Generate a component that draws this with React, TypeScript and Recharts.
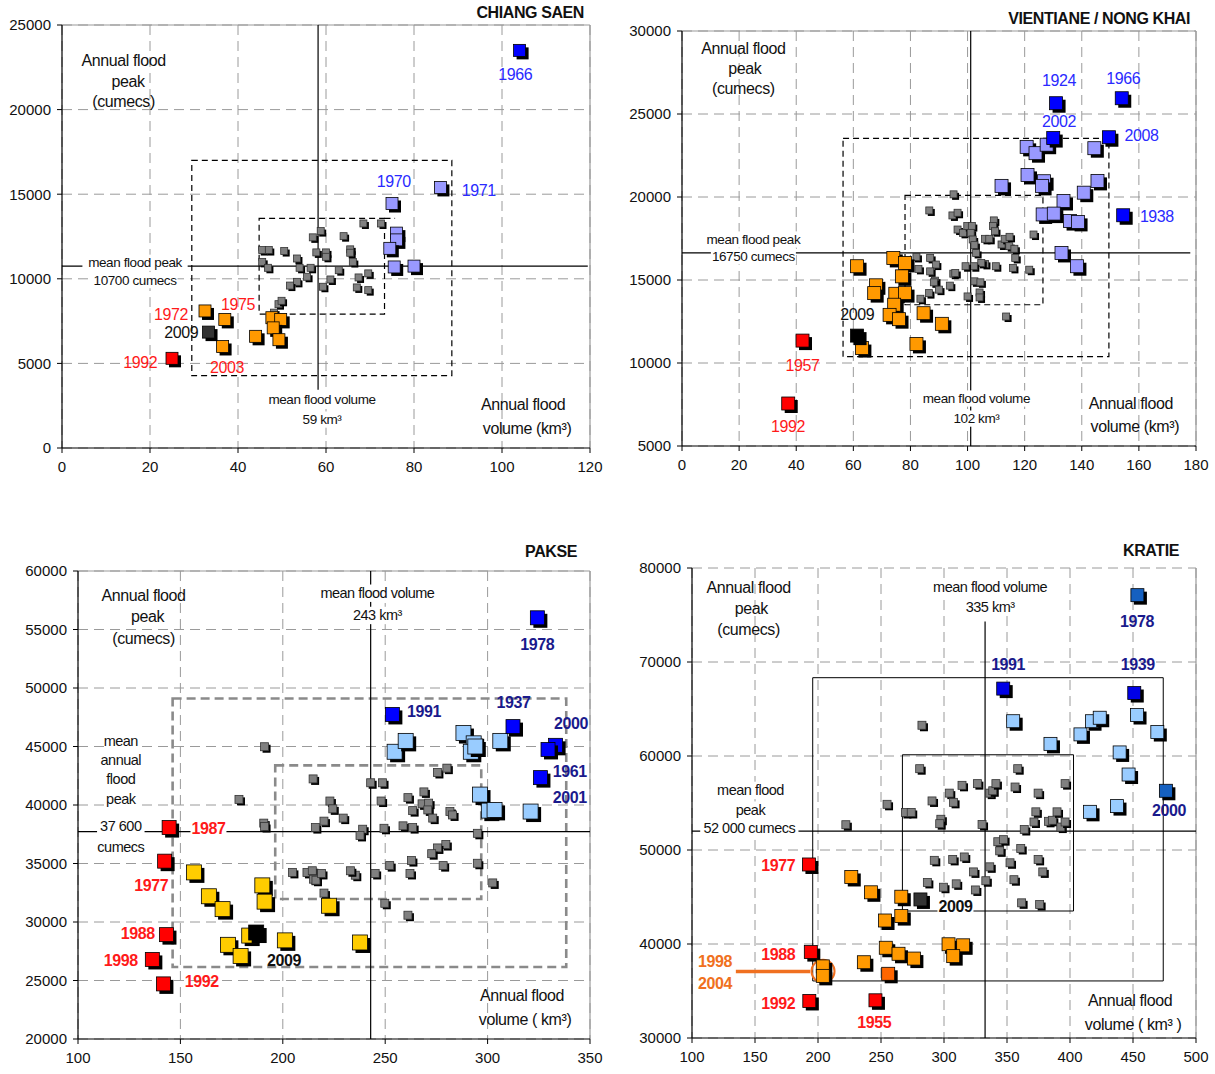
import React from "react";
import {
  ScatterChart,
  Scatter,
  XAxis,
  YAxis,
  CartesianGrid,
  ReferenceLine,
  ReferenceArea,
  ReferenceDot,
} from "recharts";

type P = [number, number];
type L = [string, number, number];

const FONT = "'Liberation Sans', Arial, Helvetica, sans-serif";

// ---------------- CHIANG SAEN ----------------
const csXTicks = [0, 20, 40, 60, 80, 100, 120];
const csYTicks = [0, 5000, 10000, 15000, 20000, 25000];
const csGray: P[] = [
  [45.5, 11700], [47, 11700], [50.5, 11640], [45.5, 11000], [46.8, 10650], [53.4, 11200],
  [54, 10650], [56.5, 10650], [57, 12450], [58.8, 12820], [57.8, 11560], [60, 11560],
  [60, 11300], [59.3, 9530], [61, 9960], [62.9, 10510], [55.7, 10120], [53.4, 9820],
  [51.8, 9600], [64, 12520], [65.5, 11740], [65.5, 11540], [66.1, 10990], [68.5, 13270],
  [72.5, 13270], [67.4, 10080], [69.6, 10320], [67, 9490], [69.6, 9330], [49.2, 8500],
  [49.9, 8700], [48.2, 8000],
];
const csLilac: P[] = [[86, 15400], [75, 14450], [76, 12700], [76, 12300], [74.5, 11800], [75.5, 10700], [80, 10750]];
const csBlue: P[] = [[104, 23500]];
const csOrange: P[] = [[32.5, 8100], [37, 7600], [36.5, 6000], [44, 6600], [47.7, 7700], [49.7, 7600], [48, 7100], [49.3, 6400]];
const csBlack: P[] = [[33.3, 6850]];
const csRed: P[] = [[25, 5300]];
const csYearsBlue: L[] = [["1966", 103, 22100], ["1970", 75.4, 15750], ["1971", 94.7, 15200]];
const csYearsRed: L[] = [["1972", 24.8, 7900], ["1975", 40, 8480], ["1992", 17.8, 5050], ["2003", 37.5, 4730]];
const csYearsBlack: L[] = [["2009", 27.1, 6820]];
const csAxisText: L[] = [
  ["Annual flood", 14, 22900], ["peak", 15, 21650], ["(cumecs)", 14, 20500],
  ["Annual flood", 104.8, 2560], ["volume (km³)", 105.7, 1180],
];
const csMeanText: L[] = [
  ["mean flood peak", 16.6, 10950], ["10700 cumecs", 16.6, 9920],
  ["mean flood volume", 59.1, 2860], ["59 km³", 59.1, 1680],
];

// ---------------- VIENTIANE ----------------
const vtXTicks = [0, 20, 40, 60, 80, 100, 120, 140, 160, 180];
const vtYTicks = [5000, 10000, 15000, 20000, 25000, 30000];
const vtGray: P[] = [
  [95.1, 20160], [86.6, 19190], [94.7, 18890], [96.5, 19050], [96.5, 18040], [98.4, 17840],
  [99.9, 18250], [101.5, 18250], [101.1, 17840], [101.8, 17440], [102.4, 17100], [103, 16630],
  [106.1, 17480], [107.6, 17480], [109.2, 18590], [108.9, 18250], [109.6, 17940], [111.9, 17140],
  [113, 17480], [114.7, 17600], [114.6, 17040], [116.4, 16880], [116.7, 16330], [123.1, 17740],
  [121.6, 15620], [115.9, 15730], [109.9, 15830], [106.1, 15970], [104.8, 16030], [102.2, 15830],
  [99.3, 15830], [82.1, 16390], [82.8, 15670], [86.9, 16330], [88.9, 15930], [86.9, 15520],
  [88.6, 14960], [88.2, 14860], [90, 14420], [93.8, 14660], [95, 15380], [95.7, 15420],
  [86.5, 14210], [83.5, 13870], [100, 14010], [102.4, 14920], [104.5, 14860], [104.2, 14250],
  [104.2, 13950], [113.5, 12800],
];
const vtLilac: P[] = [
  [120.7, 23020], [123.8, 22640], [127.7, 23150], [144.4, 22940], [121, 21330], [126.8, 20950],
  [126.1, 20670], [111.9, 20670], [140.7, 20260], [145.5, 20970], [133.6, 19760], [126.3, 18950],
  [130.2, 19000], [135.9, 18550], [138.7, 18500], [132.9, 16630], [138.3, 15830],
];
const vtBlue: P[] = [[131, 25650], [154, 25950], [130, 23550], [149.5, 23600], [154.5, 18900]];
const vtOrange: P[] = [
  [74, 16330], [78.1, 16030], [61.3, 15830], [77, 15220], [67.9, 14680], [67.3, 14210],
  [74.7, 14170], [78.1, 14210], [74.3, 13510], [72.7, 12900], [76, 12640], [84.6, 13000],
  [91, 12360], [82.1, 11150], [63, 10900],
];
const vtBlack: P[] = [[61.3, 11650]];
const vtRed: P[] = [[42.2, 11350], [37.2, 7560]];
const vtYearsBlue: L[] = [["1924", 132, 27000], ["1966", 154.5, 27160], ["2002", 132, 24540], ["2008", 160.9, 23730], ["1938", 166.3, 18810]];
const vtYearsRed: L[] = [["1957", 42.2, 9840], ["1992", 37.1, 6150]];
const vtYearsBlack: L[] = [["2009", 61.4, 12900]];
const vtAxisText: L[] = [
  ["Annual flood", 21.5, 28930], ["peak", 22, 27720], ["(cumecs)", 21.5, 26550],
  ["Annual flood", 157.2, 7560], ["volume (km³)", 158.6, 6150],
];
const vtMeanText: L[] = [
  ["mean flood peak", 25, 17440], ["16750 cumecs", 25, 16430],
  ["mean flood volume", 103.1, 7860], ["102 km³", 103.1, 6650],
];

// ---------------- PAKSE ----------------
const pkXTicks = [100, 150, 200, 250, 300, 350];
const pkYTicks = [20000, 25000, 30000, 35000, 40000, 45000, 50000, 55000, 60000];
const pkGray: P[] = [
  [191.1, 44980], [178.6, 40480], [190.7, 38450], [191.1, 38160], [214.8, 42230], [223, 40340],
  [224.4, 39670], [220.1, 38620], [215.9, 38070], [229.5, 38880], [239, 37930], [237.7, 37400],
  [242.9, 41900], [248.7, 41900], [248, 40340], [249.4, 38010], [258.7, 38220], [263.4, 38070],
  [261.1, 40630], [263.4, 39520], [268.9, 41120], [268, 40100], [271.2, 40160], [270.8, 39580],
  [273.2, 38880], [275.5, 42780], [280.1, 43150], [281.6, 39440], [282.9, 39150], [295, 37580],
  [295, 35020], [302.5, 33340], [279.6, 36620], [275.5, 36330], [272.7, 35840], [278.3, 34820],
  [262.8, 35250], [262.1, 34150], [252.2, 34820], [245.1, 34150], [235.4, 34000], [233, 34380],
  [204.7, 34240], [211.8, 34240], [214.4, 34380], [215, 33660], [216.2, 33570], [218.9, 34150],
  [220.1, 32470], [249.8, 31600], [261.1, 30580],
];
const pkLightBlue: P[] = [
  [254.6, 44550], [260, 45480], [288.2, 46150], [293.2, 45270], [291.8, 44550], [294, 45000],
  [306.2, 45480], [296.3, 40890], [300.6, 39520], [303.4, 39580], [321, 39440],
];
const pkBlue: P[] = [[324.3, 56000], [253.5, 47740], [312.4, 46700], [333.2, 45100], [329.5, 44750], [325.8, 42340]];
const pkRed: P[] = [[144.5, 38070], [142.3, 35200], [143.2, 28920], [136.3, 26800], [141.7, 24710]];
const pkYellow: P[] = [
  [156.6, 34240], [163.9, 32200], [170.6, 31100], [190, 33130], [191.1, 31740], [222.6, 31390],
  [173.2, 28050], [179.4, 27100], [183.6, 28840], [201, 28430], [237.7, 28250],
];
const pkBlack: P[] = [[187, 29100]];
const pkYearsNavy: L[] = [["1978", 324.3, 53760], ["1991", 269, 47950], ["1937", 312.7, 48730], ["2000", 340.7, 46990], ["1961", 340.1, 42860], ["2001", 340.1, 40630]];
const pkYearsRedBg: L[] = [["1987", 163.7, 37980]];
const pkYearsRed: L[] = [["1977", 135.8, 33130], ["1988", 129.2, 29000], ["1998", 120.9, 26740], ["1992", 160.4, 24940]];
const pkYearsBlack: L[] = [["2009", 200.6, 26740]];
const pkAxisText: L[] = [
  ["Annual flood", 132, 57900], ["peak", 134, 56100], ["(cumecs)", 132, 54250],
  ["Annual flood", 316.8, 23700], ["volume ( km³)", 318.3, 21660],
];
const pkMeanText: L[] = [
  ["mean", 120.9, 45480], ["annual", 120.9, 43880], ["flood", 120.9, 42200], ["peak", 120.9, 40480],
  ["37 600", 120.9, 38220], ["cumecs", 120.9, 36390],
  ["mean flood volume", 246.2, 58100], ["243 km³", 246.2, 56200],
];

// ---------------- KRATIE ----------------
const krXTicks = [100, 150, 200, 250, 300, 350, 400, 450, 500];
const krYTicks = [30000, 40000, 50000, 60000, 70000, 80000];
const krGray: P[] = [
  [222.1, 52690], [282.5, 63270], [254.8, 54860], [269.4, 53990], [274, 53990], [280.7, 58650],
  [290.5, 55220], [297.5, 53270], [296.6, 52800], [304.2, 56050], [307.6, 55070], [314.3, 56880],
  [326.5, 57060], [336.3, 56050], [338.7, 56300], [341.2, 57060], [330.2, 52720], [358.5, 58650],
  [356.4, 56700], [374.7, 56050], [372.9, 54060], [371.4, 52980], [363.7, 52180], [383, 53050],
  [386, 53160], [389.7, 54060], [392.7, 52440], [396.1, 52980], [396.1, 57060], [342.7, 50880],
  [347.3, 51100], [344.2, 49910], [352.4, 48640], [360.9, 50160], [374.7, 49000], [378.4, 47670],
  [355.5, 46840], [336.3, 48210], [323.4, 47670], [333.2, 46730], [324.9, 45750], [316.1, 49260],
  [306.9, 49000], [292.3, 48900], [286.8, 46550], [299.6, 46040], [309.7, 46400], [361.6, 44380],
  [375.9, 44200],
];
const krLightBlue: P[] = [
  [354.9, 63700], [384.5, 61290], [408.3, 62300], [417.5, 63700], [423.6, 64070], [453.2, 64360],
  [469.3, 62550], [439.4, 60380], [446.5, 58030], [437.3, 54670], [415.9, 54060],
];
const krBlue: P[] = [[347, 67170], [451, 66700]];
const krSteel: P[] = [[453.5, 77110], [476.1, 56300]];
const krRed: P[] = [[192.8, 48460], [194.3, 39140], [193.1, 33940], [245.6, 34010]];
const krOrange: P[] = [
  [226.4, 47130], [242, 45500], [266.1, 45030], [266.1, 42970], [253.2, 42500], [253.8, 39600],
  [263.9, 38960], [276.1, 38450], [236.4, 38060], [303.6, 39970], [315.2, 39860], [307.3, 38710],
  [203.8, 37620], [203.8, 36610],
];
const krDarkOrange: P[] = [[255.7, 36830]];
const krBlack: P[] = [[281.3, 44740]];
const krYearsNavy: L[] = [["1978", 453.2, 74360], ["1991", 350.9, 69780], ["1939", 453.8, 69780], ["2000", 478.5, 54240]];
const krYearsRed: L[] = [["1977", 168.4, 48390], ["1988", 168.4, 38890], ["1992", 168.4, 33720], ["1955", 244.7, 31660]];
const krYearsBlack: L[] = [["2009", 309.1, 43940]];
const krYearsOrange: L[] = [["1998", 118.3, 38170], ["2004", 118.3, 35820]];
const krAxisText: L[] = [
  ["Annual flood", 144.9, 77900], ["peak", 147, 75700], ["(cumecs)", 144.9, 73500],
  ["Annual flood", 447.7, 33940], ["volume ( km³ )", 450.1, 31480],
];
const krMeanText: L[] = [
  ["mean flood", 146.4, 56340], ["peak", 146.4, 54240], ["52 000 cumecs", 145.5, 52330],
  ["mean flood volume", 336.6, 78000], ["335 km³", 336.6, 75900],
];

// ---------------- helpers ----------------
const toPts = (d: P[]) => d.map(([x, y]) => ({ x, y }));
const toLbl = (d: L[]) => d.map(([t, x, y]) => ({ t, x, y }));

function makeSquare(fill: string, size: number, off: number, stroke = "#000") {
  return (props: any) => {
    const { cx, cy } = props;
    if (cx == null || cy == null) return <g />;
    const h = size / 2;
    return (
      <g>
        <rect x={cx - h + off} y={cy - h + off} width={size} height={size} fill="#000" />
        <rect x={cx - h} y={cy - h} width={size} height={size} fill={fill} stroke={stroke} strokeWidth={0.8} />
      </g>
    );
  };
}

function makeText(color: string, size: number, weight: number | string, bg: boolean, ls = 0) {
  return (props: any) => {
    const { cx, cy, payload } = props;
    if (cx == null || cy == null) return <g />;
    const t: string = payload.t;
    const w = t.length * size * 0.5 + 4;
    return (
      <g>
        {bg && <rect x={cx - w / 2} y={cy - size * 0.6} width={w} height={size * 1.2} fill="#fff" />}
        <text
          x={cx}
          y={cy}
          textAnchor="middle"
          dominantBaseline="central"
          fill={color}
          fontSize={size}
          fontWeight={weight}
          fontFamily={FONT}
          letterSpacing={ls}
        >
          {t}
        </text>
      </g>
    );
  };
}

interface SeriesCfg { data: P[]; fill: string; size: number; off: number; stroke?: string }
interface LabelCfg { items: L[]; color: string; size: number; weight?: number; bg?: boolean; ls?: number }
interface SegCfg { a: P; b: P; color: string; width: number; dash?: string }
interface RectCfg { x1: number; x2: number; y1: number; y2: number; color: string; width: number; dash?: string }
interface PanelCfg {
  title: string; titleRight: number; titleTop: number;
  left: number; top: number; width: number; height: number;
  margin: { top: number; right: number; bottom: number; left: number };
  yW: number; xDomain: P; xTicks: number[]; yDomain: P; yTicks: number[];
  series: SeriesCfg[]; labels: LabelCfg[]; segs: SegCfg[]; rects: RectCfg[];
  circle?: { x: number; y: number; r: number; color: string };
  topSolid: boolean;
}

const tickStyle = { fontSize: 15, fill: "#111", fontFamily: FONT };

function Panel({ c }: { c: PanelCfg }) {
  return (
    <>
      <div
        style={{
          position: "absolute", left: 0, top: c.titleTop, width: c.titleRight, textAlign: "right",
          fontFamily: FONT, fontWeight: 700, fontSize: 16, color: "#111", letterSpacing: -0.4,
        }}
      >
        {c.title}
      </div>
      <div style={{ position: "absolute", left: c.left, top: c.top }}>
        <ScatterChart width={c.width} height={c.height} margin={c.margin}>
          <CartesianGrid stroke="#9a9a9a" strokeDasharray="10 6" strokeWidth={1} />
          <XAxis
            type="number" dataKey="x" domain={c.xDomain} ticks={c.xTicks} interval={0} allowDataOverflow
            axisLine={{ stroke: "#000", strokeWidth: 1.2 }} tickLine={{ stroke: "#000" }} tickSize={5} tickMargin={8}
            tick={tickStyle} height={30}
          />
          <YAxis
            type="number" dataKey="y" domain={c.yDomain} ticks={c.yTicks} interval={0} allowDataOverflow
            axisLine={{ stroke: "#000", strokeWidth: 1.2 }} tickLine={{ stroke: "#000" }} tickSize={5} tickMargin={6}
            tick={tickStyle} width={c.yW}
          />
          <ReferenceLine x={c.xDomain[1]} stroke="#9a9a9a" strokeWidth={1.2} />
          {c.topSolid && <ReferenceLine y={c.yDomain[1]} stroke="#9a9a9a" strokeWidth={1.2} />}
          {c.rects.map((r, i) => (
            <ReferenceArea
              key={"r" + i} x1={r.x1} x2={r.x2} y1={r.y1} y2={r.y2}
              fill="none" fillOpacity={0} stroke={r.color} strokeWidth={r.width} strokeDasharray={r.dash}
            />
          ))}
          {c.segs.map((s, i) => (
            <ReferenceLine
              key={"s" + i}
              segment={[{ x: s.a[0], y: s.a[1] }, { x: s.b[0], y: s.b[1] }]}
              stroke={s.color} strokeWidth={s.width} strokeDasharray={s.dash}
            />
          ))}
          {c.circle && (
            <ReferenceDot x={c.circle.x} y={c.circle.y} r={c.circle.r} fill="none" stroke={c.circle.color} strokeWidth={2} />
          )}
          {c.series.map((s, i) => (
            <Scatter
              key={"p" + i} data={toPts(s.data)} isAnimationActive={false}
              shape={makeSquare(s.fill, s.size, s.off, s.stroke)}
            />
          ))}
          {c.labels.map((l, i) => (
            <Scatter
              key={"l" + i} data={toLbl(l.items)} isAnimationActive={false}
              shape={makeText(l.color, l.size, l.weight ?? 400, !!l.bg, l.ls ?? 0)}
            />
          ))}
        </ScatterChart>
      </div>
    </>
  );
}

const BLUE = "#0000ff";
const BLUE_TXT = "#2a2aff";
const LILAC = "#9999ff";
const ORANGE = "#ff9900";
const RED = "#ff0000";
const RED_TXT = "#ff1a1a";
const GRAY = "#808080";
const LIGHTBLUE = "#99ccff";
const YELLOW = "#ffcc00";
const NAVY_TXT = "#1a1a8c";
const STEEL = "#1560c0";
const TXT = "#111";
const LABEL_ORANGE = "#f07020";

const YEAR = 16;
const YEAR_LS = -0.4;
const AX = 16;
const AX_LS = -0.4;

const cs: PanelCfg = {
  title: "CHIANG SAEN", titleRight: 584, titleTop: 4,
  left: 0, top: 0, width: 610, height: 490,
  margin: { top: 25, right: 20, bottom: 12, left: 7 }, yW: 55,
  xDomain: [0, 120], xTicks: csXTicks, yDomain: [0, 25000], yTicks: csYTicks, topSolid: true,
  rects: [
    { x1: 29.5, x2: 88.6, y1: 4280, y2: 17000, color: "#000", width: 1.2, dash: "6 4" },
    { x1: 44.8, x2: 73.3, y1: 7910, y2: 13570, color: "#000", width: 1.2, dash: "6 4" },
  ],
  segs: [
    { a: [73.3, 13570], b: [75.7, 13570], color: "#000", width: 1.2, dash: "6 4" },
    { a: [0, 10750], b: [119.5, 10750], color: "#000", width: 1.2 },
    { a: [58.2, 3450], b: [58.2, 25000], color: "#000", width: 1.2 },
  ],
  series: [
    { data: csGray, fill: GRAY, size: 7, off: 2, stroke: "#333" },
    { data: csLilac, fill: LILAC, size: 12, off: 3 },
    { data: csBlue, fill: BLUE, size: 12, off: 3 },
    { data: csOrange, fill: ORANGE, size: 12, off: 3 },
    { data: csBlack, fill: "#333", size: 12, off: 3 },
    { data: csRed, fill: RED, size: 12, off: 3 },
  ],
  labels: [
    { items: csYearsBlue, color: BLUE_TXT, size: YEAR, ls: YEAR_LS },
    { items: csYearsRed, color: RED_TXT, size: YEAR, ls: YEAR_LS },
    { items: csYearsBlack, color: TXT, size: YEAR, ls: YEAR_LS },
    { items: csAxisText, color: TXT, size: AX, ls: AX_LS },
    { items: csMeanText, color: TXT, size: 13.5, bg: true, ls: -0.4 },
  ],
};

const vt: PanelCfg = {
  title: "VIENTIANE / NONG KHAI", titleRight: 1190, titleTop: 10,
  left: 610, top: 0, width: 600, height: 490,
  margin: { top: 31, right: 14, bottom: 14, left: 12 }, yW: 60,
  xDomain: [0, 180], xTicks: vtXTicks, yDomain: [5000, 30000], yTicks: vtYTicks, topSolid: true,
  rects: [
    { x1: 56.4, x2: 149.5, y1: 10380, y2: 23530, color: "#000", width: 1.2, dash: "6 4" },
    { x1: 78.1, x2: 126.4, y1: 13510, y2: 20100, color: "#000", width: 1.2, dash: "6 4" },
  ],
  segs: [
    { a: [0, 16630], b: [178, 16630], color: "#000", width: 1.2 },
    { a: [101.1, 5000], b: [101.1, 30000], color: "#000", width: 1.2 },
  ],
  series: [
    { data: vtGray, fill: GRAY, size: 7, off: 2, stroke: "#333" },
    { data: vtLilac, fill: LILAC, size: 13, off: 3 },
    { data: vtBlue, fill: BLUE, size: 13, off: 3 },
    { data: vtOrange, fill: ORANGE, size: 13, off: 3 },
    { data: vtBlack, fill: "#000", size: 13, off: 3 },
    { data: vtRed, fill: RED, size: 13, off: 3 },
  ],
  labels: [
    { items: vtYearsBlue, color: BLUE_TXT, size: YEAR, ls: YEAR_LS },
    { items: vtYearsRed, color: RED_TXT, size: YEAR, ls: YEAR_LS },
    { items: vtYearsBlack, color: TXT, size: YEAR, ls: YEAR_LS },
    { items: vtAxisText, color: TXT, size: AX, ls: AX_LS },
    { items: vtMeanText, color: TXT, size: 13.5, bg: true, ls: -0.4 },
  ],
};

const pk: PanelCfg = {
  title: "PAKSE", titleRight: 577, titleTop: 543,
  left: 0, top: 540, width: 610, height: 534,
  margin: { top: 31, right: 20, bottom: 5, left: 8 }, yW: 70,
  xDomain: [100, 350], xTicks: pkXTicks, yDomain: [20000, 60000], yTicks: pkYTicks, topSolid: true,
  rects: [
    { x1: 146.2, x2: 338.4, y1: 26160, y2: 49100, color: "#8a8a8a", width: 2.6, dash: "9 5" },
    { x1: 196.3, x2: 296.9, y1: 31970, y2: 43390, color: "#8a8a8a", width: 2.6, dash: "9 5" },
  ],
  segs: [
    { a: [100, 37720], b: [350, 37720], color: "#000", width: 1.2 },
    { a: [242.9, 20000], b: [242.9, 60000], color: "#000", width: 1.2 },
  ],
  series: [
    { data: pkGray, fill: GRAY, size: 8, off: 2, stroke: "#333" },
    { data: pkLightBlue, fill: LIGHTBLUE, size: 15, off: 3 },
    { data: pkBlue, fill: BLUE, size: 14, off: 3 },
    { data: pkRed, fill: RED, size: 14, off: 3 },
    { data: pkYellow, fill: YELLOW, size: 15, off: 3 },
    { data: pkBlack, fill: "#000", size: 15, off: 3 },
  ],
  labels: [
    { items: pkYearsNavy, color: NAVY_TXT, size: YEAR, weight: 700, ls: YEAR_LS },
    { items: pkYearsRed, color: RED_TXT, size: YEAR, weight: 700, ls: YEAR_LS },
    { items: pkYearsRedBg, color: RED_TXT, size: YEAR, weight: 700, bg: true, ls: YEAR_LS },
    { items: pkYearsBlack, color: TXT, size: YEAR, weight: 700, ls: YEAR_LS },
    { items: pkAxisText, color: TXT, size: AX, ls: AX_LS },
    { items: pkMeanText, color: TXT, size: 14.5, bg: true, ls: -0.5 },
  ],
};

const kr: PanelCfg = {
  title: "KRATIE", titleRight: 1179, titleTop: 542,
  left: 610, top: 540, width: 605, height: 534,
  margin: { top: 28, right: 19, bottom: 6, left: 12 }, yW: 70,
  xDomain: [100, 500], xTicks: krXTicks, yDomain: [30000, 80000], yTicks: krYTicks, topSolid: false,
  rects: [
    { x1: 195.8, x2: 474, y1: 36070, y2: 68330, color: "#000", width: 1 },
    { x1: 267, x2: 402.8, y1: 43510, y2: 60130, color: "#000", width: 1 },
  ],
  segs: [
    { a: [100, 52000], b: [500, 52000], color: "#000", width: 1.2 },
    { a: [332.6, 30000], b: [332.6, 74300], color: "#000", width: 1.2 },
    { a: [134.8, 37080], b: [193.8, 37080], color: LABEL_ORANGE, width: 3.5 },
  ],
  circle: { x: 204, y: 37100, r: 11.5, color: LABEL_ORANGE },
  series: [
    { data: krGray, fill: GRAY, size: 8, off: 2, stroke: "#333" },
    { data: krLightBlue, fill: LIGHTBLUE, size: 13, off: 3 },
    { data: krBlue, fill: "#0000e6", size: 13, off: 3 },
    { data: krSteel, fill: STEEL, size: 13, off: 3 },
    { data: krRed, fill: RED, size: 13, off: 3 },
    { data: krOrange, fill: ORANGE, size: 13, off: 3 },
    { data: krDarkOrange, fill: "#ff6600", size: 13, off: 3 },
    { data: krBlack, fill: "#333", size: 13, off: 3 },
  ],
  labels: [
    { items: krYearsNavy, color: NAVY_TXT, size: YEAR, weight: 700, ls: YEAR_LS },
    { items: krYearsRed, color: RED_TXT, size: YEAR, weight: 700, ls: YEAR_LS },
    { items: krYearsBlack, color: TXT, size: YEAR, weight: 700, bg: true, ls: YEAR_LS },
    { items: krYearsOrange, color: LABEL_ORANGE, size: YEAR, weight: 700, ls: YEAR_LS },
    { items: krAxisText, color: TXT, size: AX, ls: AX_LS },
    { items: krMeanText, color: TXT, size: 14.5, bg: true, ls: -0.5 },
  ],
};

export default function App() {
  return (
    <div style={{ position: "absolute", left: 0, top: 0, width: 1215, height: 1074, background: "#fff", overflow: "hidden" }}>
      <Panel c={cs} />
      <Panel c={vt} />
      <Panel c={pk} />
      <Panel c={kr} />
    </div>
  );
}
